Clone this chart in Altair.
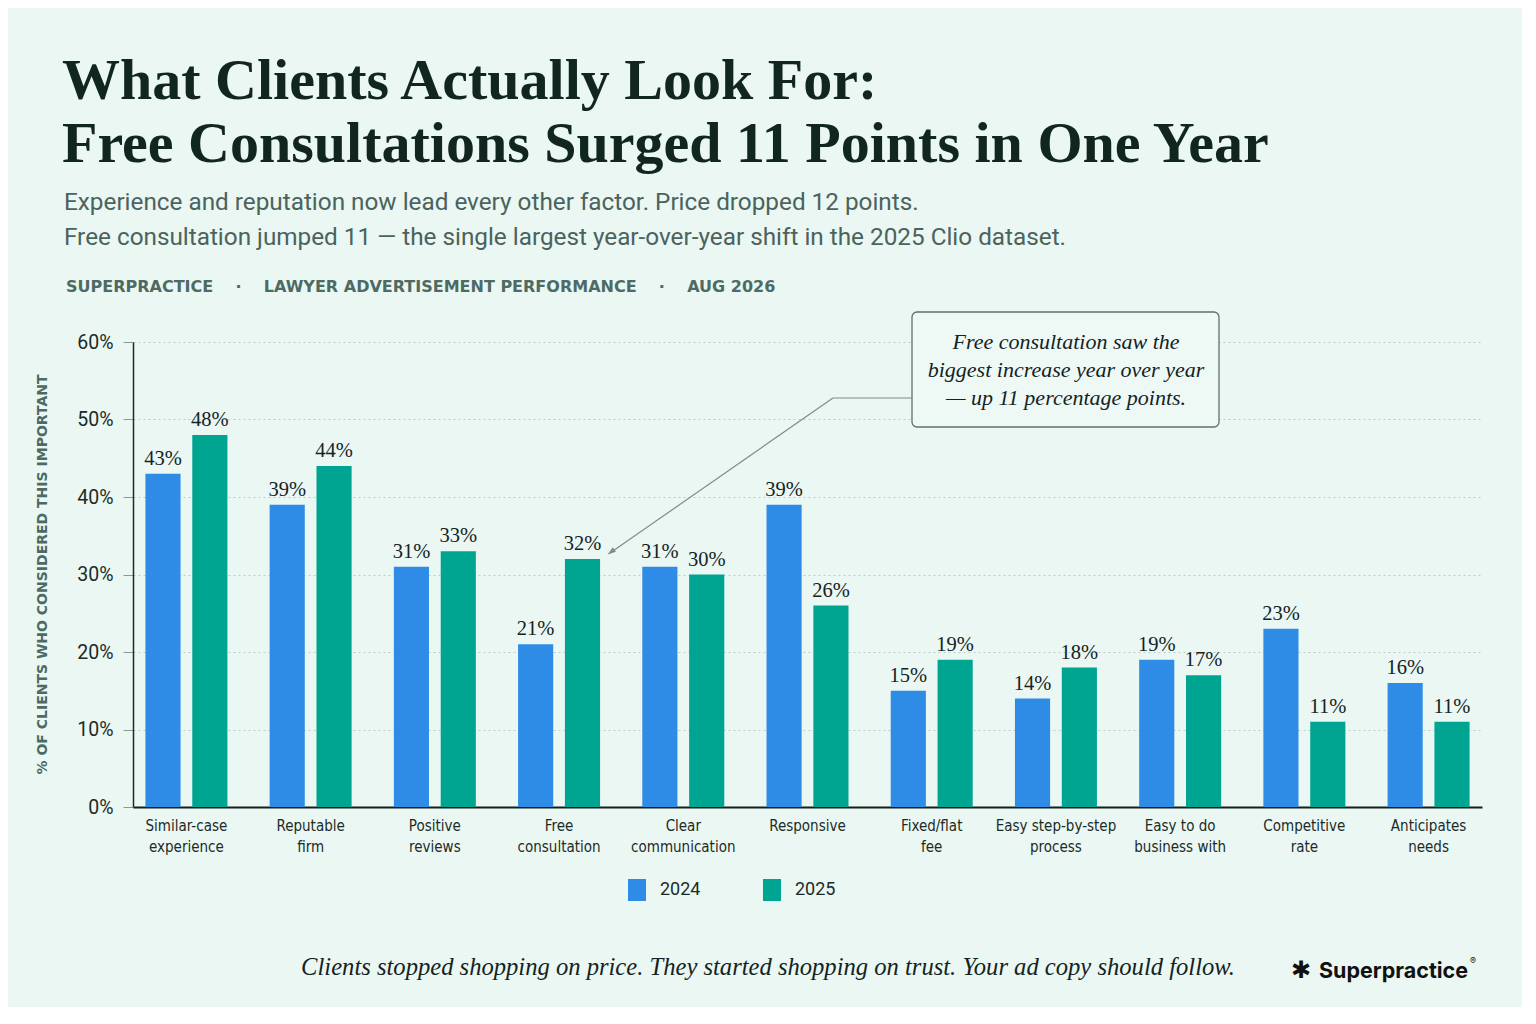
import altair as alt
import pandas as pd

categories = ["Similar-case\nexperience", "Reputable\nfirm", "Positive\nreviews",
              "Free\nconsultation", "Clear\ncommunication", "Responsive",
              "Fixed/flat\nfee", "Easy step-by-step\nprocess", "Easy to do\nbusiness with",
              "Competitive\nrate", "Anticipates\nneeds"]
values_2024 = [43, 39, 31, 21, 31, 39, 15, 14, 19, 23, 16]
values_2025 = [48, 44, 33, 32, 30, 26, 19, 18, 17, 11, 11]
years = ["2024", "2025"]
colors = ["#2f8ce6", "#00a592"]
y_ticks = [0, 10, 20, 30, 40, 50, 60]

GAP = "\u00a0" * 4
title_lines = ["What Clients Actually Look For:", "Free Consultations Surged 11 Points in One Year"]
subtitle_lines = ["Experience and reputation now lead every other factor. Price dropped 12 points.",
                  "Free consultation jumped 11 \u2014 the single largest year-over-year shift in the 2025 Clio dataset."]
tagline = "SUPERPRACTICE" + GAP + "\u00b7" + GAP + "LAWYER ADVERTISEMENT PERFORMANCE" + GAP + "\u00b7" + GAP + "AUG 2026"
y_title = "% OF CLIENTS WHO CONSIDERED THIS IMPORTANT"
annotation = "Free consultation saw the\nbiggest increase year over year\n\u2014 up 11 percentage points."
footer = "Clients stopped shopping on price. They started shopping on trust. Your ad copy should follow."
brand = "Superpractice"

rows = []
for c, a, b in zip(categories, values_2024, values_2025):
    rows.append({"category": c, "year": years[0], "value": a, "label": f"{a}%"})
    rows.append({"category": c, "year": years[1], "value": b, "label": f"{b}%"})
df = pd.DataFrame(rows)
one = pd.DataFrame({"k": [0]})

INK = "#10261f"
MUTED = "#4d6a63"
SANS = "Roboto, 'Noto Sans', sans-serif"
NARROW = "'Liberation Sans Narrow', 'DejaVu Sans Condensed', Roboto, sans-serif"
SERIF = "'Liberation Serif', 'DejaVu Serif', serif"

x_enc = alt.X("category:N", sort=categories, title=None,
              scale=alt.Scale(paddingInner=0.34, paddingOuter=0.1),
              axis=alt.Axis(labelExpr="split(datum.label, '\\n')", labelAngle=0,
                            labelFont=NARROW, labelFontSize=15, labelColor="#1c2b27",
                            labelLineHeight=21, labelPadding=11, ticks=False,
                            domainColor="#14201d", domainWidth=2, labelBaseline="top"))
xoff = alt.XOffset("year:N", sort=years, scale=alt.Scale(paddingInner=0.25, paddingOuter=0))
y_enc = alt.Y("value:Q", title=y_title,
              scale=alt.Scale(domain=[0, 60], nice=False),
              axis=alt.Axis(values=y_ticks, labelExpr="datum.value + '%'",
                            labelFont=SANS, labelFontSize=19.5, labelColor="#1c2b27",
                            labelPadding=10, tickSize=10, tickColor="#8a9994",
                            domainColor="#1c2b27", domainWidth=1.5,
                            grid=True, gridDash=[2, 3], gridColor="#bccdc7", gridWidth=1,
                            titleFont="'DejaVu Sans', sans-serif", titleFontSize=14,
                            titleFontWeight="bold", titleColor=MUTED,
                            titleAngle=270, titleAlign="center", titleBaseline="middle",
                            titleX=-91, titleY=232))

bars = alt.Chart(df).mark_bar().encode(
    x=x_enc, xOffset=xoff, y=y_enc,
    color=alt.Color("year:N", sort=years,
                    scale=alt.Scale(domain=years, range=colors),
                    legend=alt.Legend(title=None, orient="none", legendX=493, legendY=537,
                                      direction="horizontal",
                                      symbolType="M-0.82,-1H0.82V1H-0.82Z", symbolSize=484,
                                      symbolStrokeWidth=0, labelFont=SANS, labelFontSize=18,
                                      labelColor="#1c2b27", labelOffset=12, columnPadding=60))
)

value_labels = alt.Chart(df).mark_text(font=SERIF, fontSize=20.5, color="#14231f",
                                       baseline="alphabetic", dy=-9).encode(
    x=alt.X("category:N", sort=categories), xOffset=alt.XOffset("year:N", sort=years),
    y="value:Q", text="label:N")


def txt(text, x, y, **kw):
    return alt.Chart(one).mark_text(text=text, **kw).encode(x=alt.value(x), y=alt.value(y))


layers = [bars, value_labels]
layers.append(txt(title_lines[0], -71, -243, font=SERIF, fontSize=58, fontWeight="bold",
                  color=INK, align="left", baseline="alphabetic"))
layers.append(txt(title_lines[1], -71, -180, font=SERIF, fontSize=58, fontWeight="bold",
                  color=INK, align="left", baseline="alphabetic"))
layers.append(txt(subtitle_lines[0], -69, -132, font=SANS, fontSize=24.3, color="#4a635d",
                  align="left", baseline="alphabetic"))
layers.append(txt(subtitle_lines[1], -69, -97, font=SANS, fontSize=24.3, color="#4a635d",
                  align="left", baseline="alphabetic"))
layers.append(txt(tagline, -67, -50, font="'DejaVu Sans', sans-serif", fontSize=16,
                  fontWeight="bold", color=MUTED, align="left", baseline="alphabetic"))

# annotation
layers.append(alt.Chart(one).mark_rect(fill="#eef9f6", stroke="#5f716c", strokeWidth=1.3,
                                       cornerRadius=5).encode(
    x=alt.value(779), x2=alt.value(1086), y=alt.value(-30), y2=alt.value(85)))
layers.append(alt.Chart(one).mark_rule(color="#7f8c88", strokeWidth=1.2).encode(
    x=alt.value(779), x2=alt.value(700), y=alt.value(56), y2=alt.value(56)))
layers.append(alt.Chart(one).mark_rule(color="#7f8c88", strokeWidth=1.2).encode(
    x=alt.value(700), x2=alt.value(477), y=alt.value(56), y2=alt.value(211)))
layers.append(alt.Chart(one).mark_point(shape="M0,-1L0.65,1L-0.65,1Z", filled=True, size=70,
                                        angle=235, color="#7f8c88", opacity=1).encode(
    x=alt.value(478), y=alt.value(210)))
layers.append(txt(annotation, 933, 7, font=SERIF, fontSize=22, fontStyle="italic",
                  color="#14231f", align="center", baseline="alphabetic", lineHeight=28,
                  lineBreak="\n"))

# footer
layers.append(txt(footer, 1102, 633, font=SERIF, fontSize=24.6, fontStyle="italic",
                  color="#14231f", align="right", baseline="alphabetic"))
layers.append(txt("\u2731", 1168, 636, font="'DejaVu Sans', sans-serif", fontSize=24,
                  color="#111111", align="center", baseline="alphabetic"))
layers.append(txt(brand, 1186, 636, font="Inter, Roboto, sans-serif", fontSize=21.5,
                  fontWeight="bold", color="#111111", align="left", baseline="alphabetic"))
layers.append(txt("\u00ae", 1337, 622, font="Inter, Roboto, sans-serif", fontSize=9,
                  color="#111111", align="left", baseline="alphabetic"))

chart = alt.layer(*layers).properties(
    width=1349, height=465,
    autosize=alt.AutoSizeParams(type="none"),
    padding={"left": 125, "top": 334, "right": 40, "bottom": 200},
    background="#eaf7f3",
).configure_view(stroke=None)

chart.save("out.html", embed_options={"renderer": "svg", "actions": False})
